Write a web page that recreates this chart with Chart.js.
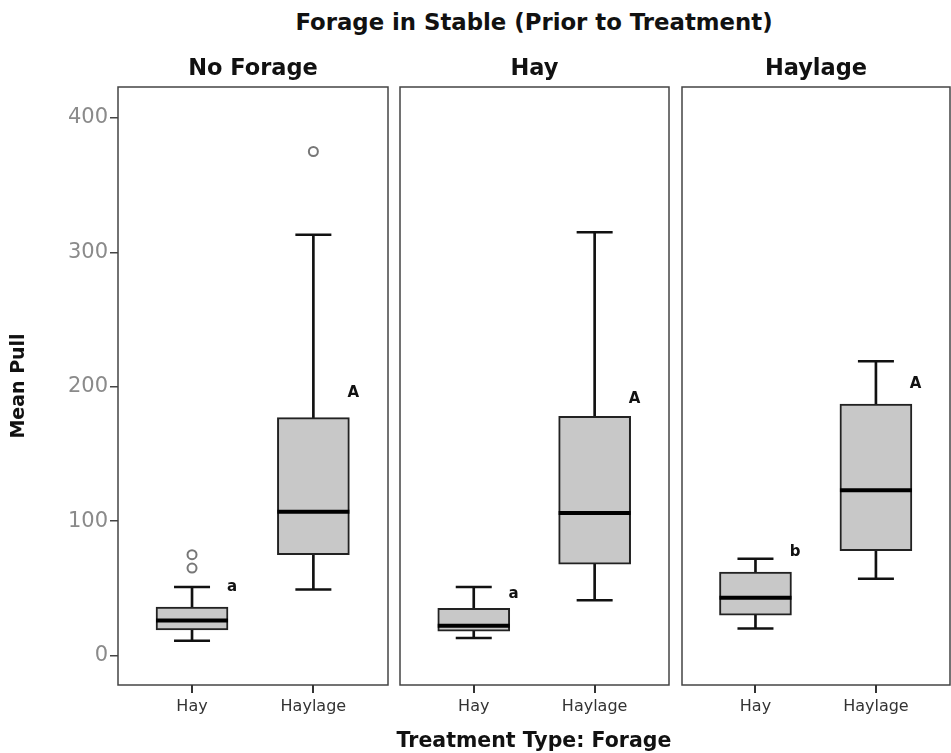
<!DOCTYPE html>
<html>
<head>
<meta charset="utf-8">
<script src="https://cdn.jsdelivr.net/npm/chart.js@4.4.0/dist/chart.umd.min.js"></script>
<style>
body { margin: 0; background: #fff; width: 951px; height: 753px; overflow: hidden; position: relative; font-family: 'DejaVu Sans', sans-serif; }
canvas { position: absolute; top: 0; }
.big { position: absolute; left: 118px; width: 832px; text-align: center; font-weight: bold; color: #111; }
</style>
</head>
<body>
<div class="big" style="top:9px; font-size:22.8px; line-height:26px;">Forage in Stable (Prior to Treatment)</div>
<canvas id="p0" style="left:0px" width="392" height="753"></canvas>
<canvas id="p1" style="left:396px" width="277" height="753"></canvas>
<canvas id="p2" style="left:678px" width="273" height="753"></canvas>
<div class="big" style="top:728px; font-size:20.5px; line-height:24px;">Treatment Type: Forage</div>
<script>
// values, one inner pair per panel: [Hay, Haylage]
const panelTitles = ['No Forage', 'Hay', 'Haylage'];
const categories = ['Hay', 'Haylage'];
const lowWhisker = [[11, 49], [13, 41], [20, 57]];
const q1 = [[19, 75], [18, 68], [30, 78]];
const medians = [[26, 107], [22, 106], [43, 123]];
const q3 = [[36, 177], [35, 178], [62, 187]];
const highWhisker = [[51, 313], [51, 315], [72, 219]];
const outliers = [[[75, 65], [375]], [[], []], [[], []]];
const letters = [['a', 'A'], ['a', 'A'], ['b', 'A']];
const letterY = [[51, 195], [46, 191], [77, 202]];
const yTicks = [0, 100, 200, 300, 400];

Chart.defaults.font.family = "'DejaVu Sans', sans-serif";

const padLeft = [0, 4, 4];
const padRight = [4, 4, 1];

// panel frame + category tick marks under it
const framePlugin = {
    id: 'frame',
    afterDraw(chart) {
        const a = chart.chartArea;
        const ctx = chart.ctx;
        const xs = chart.scales.x;
        ctx.save();
        ctx.strokeStyle = '#444';
        ctx.lineWidth = 1.5;
        ctx.strokeRect(a.left, a.top, a.right - a.left, a.bottom - a.top);
        ctx.strokeStyle = '#333';
        ctx.lineWidth = 2;
        ctx.beginPath();
        categories.forEach((c, j) => {
            const px = Math.round(xs.getPixelForValue(j + 1));
            ctx.moveTo(px, a.bottom);
            ctx.lineTo(px, a.bottom + 8);
        });
        ctx.stroke();
        ctx.restore();
    }
};

function BuildPanel(i) {
    const pts = (arr) => categories.map((c, j) => ({ x: j + 1, y: arr[i][j] }));
    let outPts = [];
    outliers[i].forEach((list, j) => list.forEach(v => outPts.push({ x: j + 1, y: v })));

    const letterPlugin = {
        id: 'letters',
        afterDatasetsDraw(chart) {
            const ctx = chart.ctx;
            const xs = chart.scales.x, ys = chart.scales.y;
            ctx.save();
            ctx.font = 'bold 15px "DejaVu Sans"';
            ctx.fillStyle = '#111';
            ctx.textAlign = 'center';
            ctx.textBaseline = 'middle';
            categories.forEach((c, j) => {
                ctx.fillText(letters[i][j], xs.getPixelForValue(j + 1.33), ys.getPixelForValue(letterY[i][j]));
            });
            ctx.restore();
        }
    };

    const ctx = document.getElementById('p' + i);
    return new Chart(ctx, {
        type: 'bar',
        data: {
            datasets: [
                {
                    type: 'bar',
                    data: categories.map((c, j) => ({ x: j + 1, y: [lowWhisker[i][j], highWhisker[i][j]] })),
                    backgroundColor: '#111',
                    borderWidth: 0,
                    barThickness: 2,
                    grouped: false,
                    order: 3
                },
                {
                    type: 'bar',
                    data: categories.map((c, j) => ({ x: j + 1, y: [q1[i][j], q3[i][j]] })),
                    backgroundColor: '#c8c8c8',
                    borderColor: '#222',
                    borderWidth: 2,
                    borderSkipped: false,
                    barThickness: 72,
                    grouped: false,
                    order: 2
                },
                {
                    type: 'scatter',
                    data: pts(medians),
                    pointStyle: 'line',
                    pointRadius: 36,
                    pointBorderWidth: 4,
                    pointBorderColor: '#000',
                    order: 1
                },
                {
                    type: 'scatter',
                    data: pts(lowWhisker).concat(pts(highWhisker)),
                    pointStyle: 'line',
                    pointRadius: 18,
                    pointBorderWidth: 2.5,
                    pointBorderColor: '#111',
                    order: 1
                },
                {
                    type: 'scatter',
                    data: outPts,
                    pointStyle: 'circle',
                    pointRadius: 4.5,
                    pointBackgroundColor: '#fff',
                    pointBorderColor: '#777',
                    pointBorderWidth: 2,
                    order: 1
                }
            ]
        },
        options: {
            responsive: false,
            animation: false,
            events: [],
            layout: { autoPadding: false, padding: { left: padLeft[i], right: padRight[i], top: 0, bottom: 0 } },
            plugins: {
                legend: { display: false },
                tooltip: { enabled: false },
                title: {
                    display: true,
                    text: panelTitles[i],
                    fullSize: false,
                    color: '#111',
                    font: { size: 22.5, weight: 'bold' },
                    padding: { top: 55.5, bottom: 4.5 }
                }
            },
            scales: {
                x: {
                    type: 'linear',
                    min: 0.39,
                    max: 2.615,
                    offset: false,
                    afterBuildTicks: s => { s.ticks = categories.map((c, j) => ({ value: j + 1 })) },
                    afterFit: s => { s.height = 68; s.paddingLeft = 0; s.paddingRight = 0 },
                    ticks: {
                        callback: v => categories[v - 1],
                        color: '#333',
                        font: { size: 16 },
                        padding: 4,
                        autoSkip: false,
                        maxRotation: 0
                    },
                    grid: { display: false, drawTicks: true, tickLength: 8 },
                    border: { display: false }
                },
                y: {
                    display: i === 0,
                    min: -22,
                    max: 423,
                    afterBuildTicks: s => { s.ticks = yTicks.map(v => ({ value: v })) },
                    afterFit: s => { if (i === 0) s.width = 118 },
                    ticks: { color: '#8a8a8a', font: { size: 21 }, padding: 2 },
                    grid: { drawOnChartArea: false, tickLength: 8, color: '#444', lineWidth: 1.5 },
                    border: { display: false },
                    title: {
                        display: true,
                        text: 'Mean Pull',
                        color: '#111',
                        font: { size: 19, weight: 'bold' },
                        padding: { top: 8, bottom: 0 }
                    }
                }
            }
        },
        plugins: [framePlugin, letterPlugin]
    });
}

panelTitles.forEach((t, i) => BuildPanel(i));
</script>
</body>
</html>
